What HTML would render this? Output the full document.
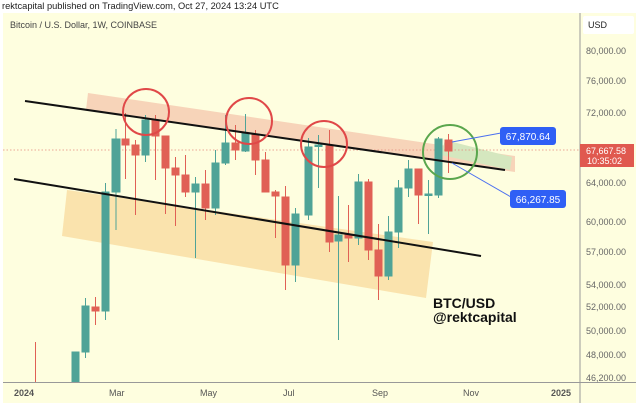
<!DOCTYPE html>
<html><head><meta charset="utf-8"><style>
html,body{margin:0;padding:0;background:#fff;width:640px;height:405px;overflow:hidden}
svg{display:block;font-family:"Liberation Sans",Arial,sans-serif}
</style></head><body>
<svg width="640" height="405" viewBox="0 0 640 405" xmlns="http://www.w3.org/2000/svg">
<rect width="640" height="405" fill="#fff"/>
<text x="2" y="9" font-size="9.3" fill="#222">rektcapital published on TradingView.com, Oct 27, 2024 13:24 UTC</text>
<rect x="3" y="13" width="633" height="390" fill="#fefedf"/>
<text x="10" y="28" font-size="9" fill="#444">Bitcoin / U.S. Dollar, 1W, COINBASE</text>
<polygon points="88,93 515,156 515,172 86,110" fill="#f6cfb5" opacity="0.9"/>
<polygon points="445,140 512,157 510,170 441,155" fill="#d5e7bf"/>
<polygon points="67,190 433,242 426,298 62,236" fill="#fae3ad"/>
<line x1="3" y1="150" x2="580" y2="150" stroke="#e5897c" stroke-width="0.8" stroke-dasharray="1.5,2"/>
<g stroke-width="1">
<g stroke="#e06055" fill="#e06055">
<line x1="35.5" y1="342" x2="35.5" y2="382"/>
<line x1="95.5" y1="297" x2="95.5" y2="325"/><rect x="92" y="307" width="7" height="4"/>
<line x1="125.5" y1="113" x2="125.5" y2="179"/><rect x="122" y="139" width="7" height="6"/>
<line x1="135.5" y1="140" x2="135.5" y2="215"/><rect x="132" y="145" width="7" height="10"/>
<line x1="155.5" y1="115" x2="155.5" y2="180"/><rect x="152" y="120" width="7" height="16"/>
<line x1="165.5" y1="136" x2="165.5" y2="214"/><rect x="162" y="136" width="7" height="32"/>
<line x1="175.5" y1="157" x2="175.5" y2="226"/><rect x="172" y="168" width="7" height="7"/>
<line x1="185.5" y1="155" x2="185.5" y2="197"/><rect x="182" y="175" width="7" height="17"/>
<line x1="205.5" y1="170" x2="205.5" y2="220"/><rect x="202" y="184" width="7" height="24"/>
<line x1="235.5" y1="125" x2="235.5" y2="160"/><rect x="232" y="143" width="7" height="7"/>
<line x1="255.5" y1="130" x2="255.5" y2="175"/><rect x="252" y="134" width="7" height="26"/>
<line x1="265.5" y1="152" x2="265.5" y2="192"/><rect x="262" y="160" width="7" height="32"/>
<line x1="275.5" y1="190" x2="275.5" y2="238"/><rect x="272" y="192" width="7" height="4"/>
<line x1="285.5" y1="186" x2="285.5" y2="290"/><rect x="282" y="197" width="7" height="68"/>
<line x1="329.5" y1="130" x2="329.5" y2="252"/><rect x="326" y="146" width="7" height="96"/>
<line x1="348.5" y1="205" x2="348.5" y2="262"/><rect x="345" y="235" width="7" height="3"/>
<line x1="368.5" y1="179" x2="368.5" y2="260"/><rect x="365" y="182" width="7" height="68"/>
<line x1="378.5" y1="224" x2="378.5" y2="300"/><rect x="375" y="250" width="7" height="26"/>
<line x1="418.5" y1="169" x2="418.5" y2="224"/><rect x="415" y="169" width="7" height="26"/>
<line x1="448.5" y1="134" x2="448.5" y2="173"/><rect x="445" y="140" width="7" height="11"/>
</g>
<g stroke="#4fa397" fill="#4fa397">
<rect x="72" y="352" width="7" height="30"/>
<line x1="85.5" y1="298" x2="85.5" y2="358"/><rect x="82" y="306" width="7" height="46"/>
<line x1="105.5" y1="183" x2="105.5" y2="320"/><rect x="102" y="192" width="7" height="119"/>
<line x1="116" y1="129" x2="116" y2="230"/><rect x="112" y="139" width="8" height="53"/>
<line x1="145.5" y1="115" x2="145.5" y2="162"/><rect x="142" y="120" width="7" height="35"/>
<line x1="195.5" y1="177" x2="195.5" y2="258"/><rect x="192" y="184" width="7" height="8"/>
<line x1="215.5" y1="150" x2="215.5" y2="215"/><rect x="212" y="163" width="7" height="45"/>
<line x1="225.5" y1="115" x2="225.5" y2="165"/><rect x="222" y="143" width="7" height="20"/>
<line x1="245.5" y1="114" x2="245.5" y2="152"/><rect x="242" y="133" width="7" height="18"/>
<line x1="295.5" y1="208" x2="295.5" y2="282"/><rect x="292" y="214" width="7" height="51"/>
<line x1="308.5" y1="138" x2="308.5" y2="220"/><rect x="305" y="147" width="7" height="68"/>
<line x1="318.5" y1="135" x2="318.5" y2="188"/><rect x="315" y="145" width="7" height="1.5"/>
<line x1="338.5" y1="196" x2="338.5" y2="340"/><rect x="335" y="235" width="7" height="6"/>
<line x1="358.5" y1="174" x2="358.5" y2="245"/><rect x="355" y="182" width="7" height="56"/>
<line x1="388.5" y1="216" x2="388.5" y2="280"/><rect x="385" y="232" width="7" height="44"/>
<line x1="398.5" y1="180" x2="398.5" y2="248"/><rect x="395" y="188" width="7" height="44"/>
<line x1="408.5" y1="160" x2="408.5" y2="197"/><rect x="405" y="169" width="7" height="19"/>
<line x1="428.5" y1="180" x2="428.5" y2="234"/><rect x="425" y="194" width="7" height="1.5"/>
<line x1="438.5" y1="137" x2="438.5" y2="198"/><rect x="435" y="139" width="7" height="56"/>
</g>
</g>
<line x1="25" y1="101" x2="505" y2="170" stroke="#111" stroke-width="2"/>
<line x1="14" y1="179" x2="481" y2="256" stroke="#111" stroke-width="2"/>
<g fill="none" stroke-width="2">
<circle cx="146" cy="112" r="23" stroke="#e04848"/>
<circle cx="249" cy="121" r="23" stroke="#e04848"/>
<circle cx="324" cy="144" r="23" stroke="#e04848"/>
<circle cx="450" cy="152" r="27" stroke="#5aa64d"/>
</g>
<line x1="452" y1="142" x2="501" y2="133" stroke="#4a6ff0" stroke-width="1"/>
<line x1="452" y1="163" x2="511" y2="197" stroke="#4a6ff0" stroke-width="1"/>
<rect x="500" y="127" width="56" height="18" rx="3" fill="#2f5ff5"/>
<text x="528" y="140" font-size="10" fill="#fff" text-anchor="middle">67,870.64</text>
<rect x="510" y="190" width="56" height="18" rx="3" fill="#2f5ff5"/>
<text x="538" y="203" font-size="10" fill="#fff" text-anchor="middle">66,267.85</text>
<text x="433" y="308" font-size="14" font-weight="bold" fill="#111">BTC/USD</text>
<text x="433" y="322" font-size="14" font-weight="bold" fill="#111">@rektcapital</text>
<line x1="580" y1="13" x2="580" y2="403" stroke="#999" stroke-width="1"/>
<line x1="3" y1="382.5" x2="636" y2="382.5" stroke="#999" stroke-width="1"/>
<rect x="583" y="16" width="51" height="18" rx="2" fill="#fff"/>
<text x="588" y="28" font-size="9" fill="#222">USD</text>
<g font-size="9" fill="#666">
<text x="586" y="54">80,000.00</text>
<text x="586" y="84">76,000.00</text>
<text x="586" y="116">72,000.00</text>
<text x="586" y="186">64,000.00</text>
<text x="586" y="225">60,000.00</text>
<text x="586" y="255">57,000.00</text>
<text x="586" y="288">54,000.00</text>
<text x="586" y="310">52,000.00</text>
<text x="586" y="334">50,000.00</text>
<text x="586" y="358">48,000.00</text>
<text x="586" y="381">46,200.00</text>
</g>
<rect x="580" y="144" width="54" height="23" fill="#e0594f"/>
<text x="586" y="154" font-size="9" fill="#fff">67,667.58</text>
<text x="587" y="164" font-size="9" fill="#fff">10:35:02</text>
<g font-size="9" fill="#555">
<text x="14" y="396" font-weight="bold">2024</text>
<text x="109" y="396">Mar</text>
<text x="200" y="396">May</text>
<text x="283" y="396">Jul</text>
<text x="372" y="396">Sep</text>
<text x="463" y="396">Nov</text>
<text x="551" y="396" font-weight="bold">2025</text>
</g>
</svg>
</body></html>
